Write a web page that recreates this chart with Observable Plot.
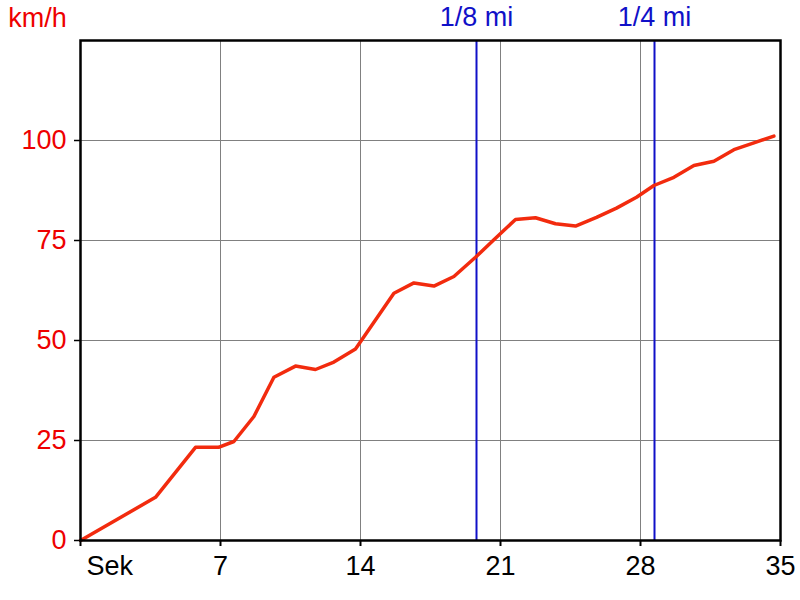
<!DOCTYPE html>
<html>
<head>
<meta charset="utf-8">
<script src="https://cdn.jsdelivr.net/npm/d3@7"></script>
<script src="https://cdn.jsdelivr.net/npm/@observablehq/plot@0.6"></script>
<style>
  html, body { margin: 0; padding: 0; background: #fff; }
  #chart { width: 800px; height: 600px; }
</style>
</head>
<body>
<div id="chart"></div>
<script>
// Time (s) and speed (km/h)
const seconds = [0, 3.75, 5.75, 6.9, 7.67, 8.67, 9.67, 10.75, 11.75, 12.67, 13.75, 15.67, 16.67, 17.67, 18.67, 19.75, 20.67, 21.75, 22.75, 23.75, 24.75, 25.8, 26.8, 27.8, 28.67, 29.67, 30.67, 31.67, 32.67, 33.67, 34.67];
const speed = [0, 10.8, 23.3, 23.3, 24.75, 31, 40.8, 43.6, 42.75, 44.6, 47.9, 61.8, 64.4, 63.6, 66, 70.8, 75.2, 80.25, 80.7, 79.2, 78.6, 80.8, 83.1, 85.8, 88.75, 90.8, 93.75, 94.8, 97.7, 99.4, 101.1];

const xTicks = [0, 7, 14, 21, 28, 35];
const yTicks = [0, 25, 50, 75, 100];
const xGrid = [7, 14, 21, 28];
const yGrid = [25, 50, 75, 100];

const markerNames = ["1/8 mi", "1/4 mi"];
const markerTimes = [19.8, 28.7];

const xUnit = "Sek";
const yUnit = "km/h";

const data = seconds.map((t, i) => ({t, v: speed[i]}));
const markers = markerNames.map((n, i) => ({name: n, t: markerTimes[i]}));

const FONT = "'Liberation Sans', Arial, sans-serif";
const RED = "#ee0000";
const BLUE = "#1010c8";

const chart = Plot.plot({
  width: 800,
  height: 600,
  marginLeft: 80,
  marginRight: 20,
  marginTop: 40,
  marginBottom: 60,
  style: {fontFamily: FONT, background: "#fff", overflow: "visible"},
  x: {domain: [0, 35]},
  y: {domain: [0, 125]},
  marks: [
    Plot.gridX(xGrid, {stroke: "#808080", strokeOpacity: 1, strokeWidth: 1}),
    Plot.gridY(yGrid, {stroke: "#808080", strokeOpacity: 1, strokeWidth: 1}),
    Plot.ruleX(markers, {x: "t", stroke: BLUE, strokeWidth: 2}),
    Plot.line(data, {x: "t", y: "v", stroke: "#f22b0e", strokeWidth: 3.5, strokeLinejoin: "round", strokeLinecap: "round"}),
    Plot.frame({stroke: "#000", strokeWidth: 2.5}),
    Plot.axisX({ticks: xTicks, tickSize: 6, tickPadding: 9, fontSize: 27, fill: "#000", stroke: "#000", strokeWidth: 2,
      tickFormat: d => d === 0 ? "" : String(d), label: null}),
    Plot.axisY({ticks: yTicks, tickSize: 6, tickPadding: 8, fontSize: 27, fill: RED, stroke: "#000", strokeWidth: 1.5,
      tickFormat: d => String(d), label: null}),
    Plot.text([xUnit], {x: 0, frameAnchor: "bottom", textAnchor: "start", lineAnchor: "top", dx: 6, dy: 15, fontSize: 27, fill: "#000", text: d => d}),
    Plot.text([yUnit], {x: 0, frameAnchor: "top", textAnchor: "middle", lineAnchor: "middle", dx: -43, dy: -22, fontSize: 27, fill: RED, text: d => d}),
    Plot.text(markers, {x: "t", text: "name", frameAnchor: "top", textAnchor: "middle", lineAnchor: "middle", dy: -23, fontSize: 27, fill: BLUE})
  ]
});
document.getElementById("chart").appendChild(chart);
</script>
</body>
</html>
